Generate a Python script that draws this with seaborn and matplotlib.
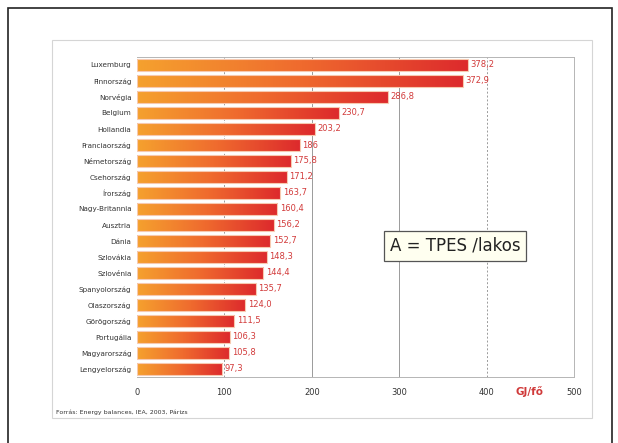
import numpy as np
import pandas as pd
import matplotlib
matplotlib.use("Agg")
import matplotlib.pyplot as plt
from matplotlib.colors import LinearSegmentedColormap
from matplotlib.patches import Rectangle
import seaborn as sns

countries = ["Luxemburg", "Finnország", "Norvégia", "Belgium", "Hollandia",
             "Franciaország", "Németország", "Csehország", "Írország",
             "Nagy-Britannia", "Ausztria", "Dánia", "Szlovákia", "Szlovénia",
             "Spanyolország", "Olaszország", "Görögország", "Portugália",
             "Magyarország", "Lengyelország"]
values = [378.2, 372.9, 286.8, 230.7, 203.2, 186.0, 175.8, 171.2, 163.7,
          160.4, 156.2, 152.7, 148.3, 144.4, 135.7, 124.0, 111.5, 106.3,
          105.8, 97.3]
value_labels = ["378,2", "372,9", "286,8", "230,7", "203,2", "186", "175,8",
                "171,2", "163,7", "160,4", "156,2", "152,7", "148,3", "144,4",
                "135,7", "124,0", "111,5", "106,3", "105,8", "97,3"]
x_ticks = [0, 100, 200, 300, 400, 500]

df = pd.DataFrame({"orszag": countries, "tpes": values})

sns.set_theme(style="white")
plt.rcParams["font.family"] = ["DejaVu Sans"]

W, H = 618, 443
fig = plt.figure(figsize=(W / 100, H / 100), dpi=100)

# outer frame and inner panel
fig.add_artist(Rectangle((8 / W, -0.05), 604 / W, 1.05 - 8 / H,
                         transform=fig.transFigure, fill=False,
                         edgecolor="#222222", linewidth=1.2))
fig.add_artist(Rectangle((52 / W, 1 - 418 / H), 540 / W, 378 / H,
                         transform=fig.transFigure, fill=False,
                         edgecolor="#d5d5d5", linewidth=0.8))

ax = fig.add_axes([137 / W, 1 - 377 / H, 437 / W, 320 / H])
sns.barplot(data=df, x="tpes", y="orszag", orient="h", ax=ax,
            width=0.76, color="#ee6a30", edgecolor="#f7c9b0", linewidth=0.8)

# orange-to-red gradient fill inside each bar
cmap = LinearSegmentedColormap.from_list("og", ["#f5a12e", "#ef6a2e", "#dd2a2c"])
grad = np.linspace(0, 1, 256).reshape(1, -1)
for p in ax.patches:
    x0, y0 = p.get_x(), p.get_y()
    w, h = p.get_width(), p.get_height()
    im = ax.imshow(grad, cmap=cmap, aspect="auto",
                   extent=(x0, x0 + w, y0 + h, y0), zorder=p.get_zorder() + 0.1)
    im.set_clip_path(p)
    p.set_facecolor("none")
    p.set_zorder(p.get_zorder() + 0.2)

for i, (v, lab) in enumerate(zip(values, value_labels)):
    ax.text(v + 3, i, lab, va="center", ha="left", fontsize=6,
            color="#d23a3a", zorder=5)

ax.set_xlim(0, 500)
ax.set_ylim(len(countries) - 0.5, -0.5)
ax.set_xticks(x_ticks)
ax.set_xticklabels([str(t) for t in x_ticks], fontsize=6, color="#333333")
ax.tick_params(axis="y", labelsize=5.2, colors="#333333", length=0, pad=4)
ax.tick_params(axis="x", length=3, color="#888888", pad=5)
ax.set_xlabel("")
ax.set_ylabel("")
for x in [100, 200, 300, 400]:
    ax.axvline(x, color="#9a9a9a", linewidth=0.7,
               linestyle=(0, (2, 2)) if x in (100, 400) else "-", zorder=0.5)
for s in ["top", "bottom", "left", "right"]:
    ax.spines[s].set_color("#b5b5b5")
    ax.spines[s].set_linewidth(0.7)
ax.spines["left"].set_visible(False)

fig.text(530 / W, 1 - 392 / H, "GJ/fő", color="#d03a3a", fontsize=7.5,
         fontweight="bold", ha="center", va="center")
fig.text(455 / W, 1 - 246 / H, "A = TPES /lakos", fontsize=12, color="#222222",
         ha="center", va="center",
         bbox=dict(boxstyle="square,pad=0.35", facecolor="#fffff0",
                   edgecolor="#555555", linewidth=0.9))
fig.text(56 / W, 1 - 412 / H, "Forrás: Energy balances, IEA, 2003, Párizs",
         fontsize=4.5, color="#333333", ha="left", va="center")

fig.savefig("out.png", dpi=100)
